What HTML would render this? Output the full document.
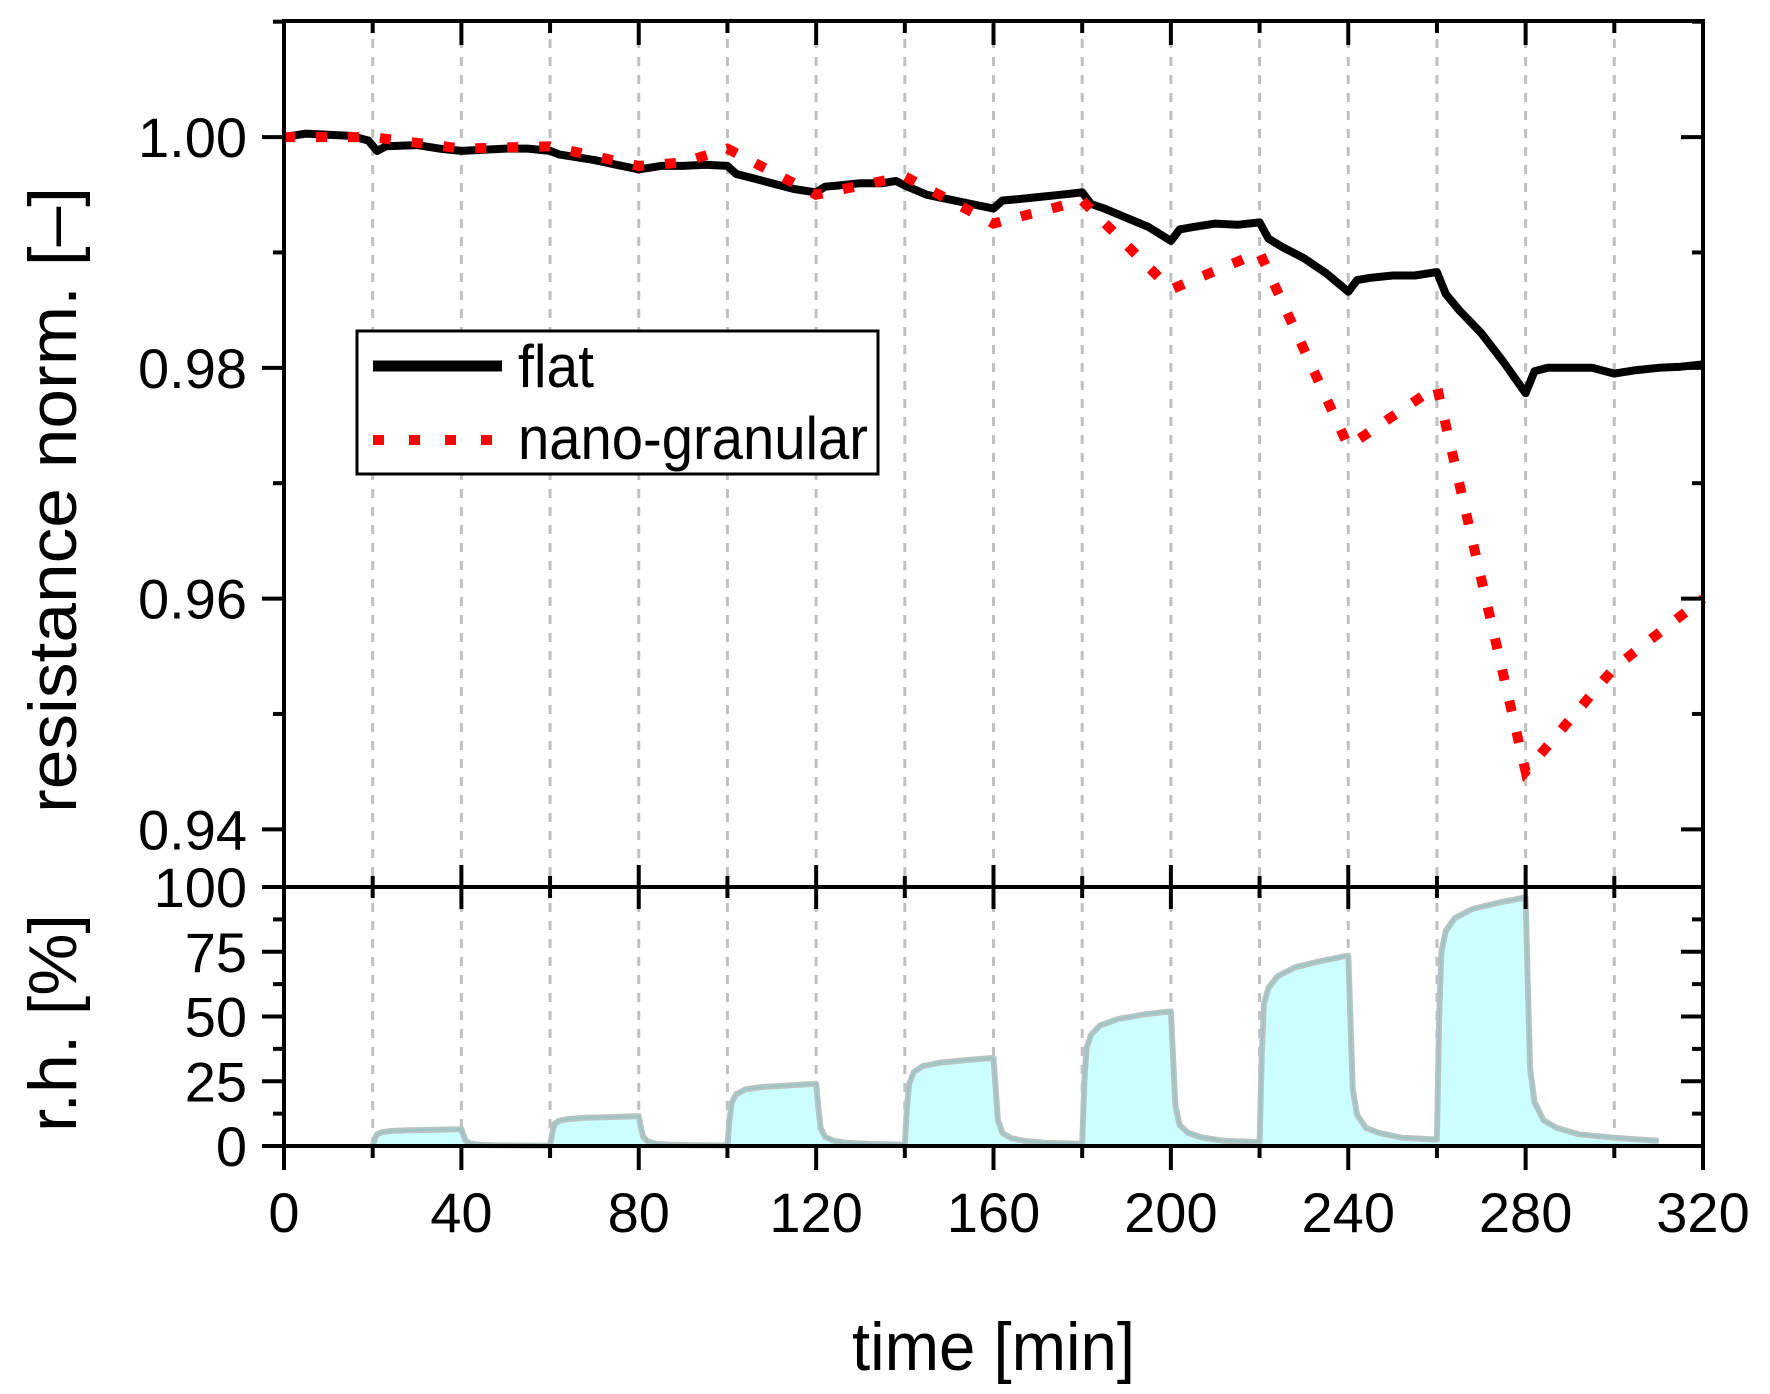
<!DOCTYPE html>
<html><head><meta charset="utf-8"><style>
html,body{margin:0;padding:0;background:#fff;}
svg{display:block;font-family:"Liberation Sans",Arial,sans-serif;}
</style></head><body>
<svg id="chart" width="1770" height="1394" viewBox="0 0 1770 1394" xmlns="http://www.w3.org/2000/svg">
<g id="grid"></g>
<g id="rh"></g>
<g id="series"></g>
<g id="axes"></g>
<g id="legend">
  <rect x="357" y="331" width="521" height="143" fill="#fff" stroke="#000" stroke-width="3"/>
  <line x1="373" y1="366" x2="502" y2="366" stroke="#000" stroke-width="11"/>
  <text x="518" y="387" font-size="60" textLength="76" lengthAdjust="spacingAndGlyphs">flat</text>
  <line x1="373" y1="440" x2="492" y2="440" stroke="#ff0000" stroke-width="10" stroke-dasharray="11 25"/>
  <text x="518" y="459" font-size="60" textLength="350" lengthAdjust="spacingAndGlyphs">nano-granular</text>
</g>
<text x="852" y="1370" font-size="68" textLength="283" lengthAdjust="spacingAndGlyphs">time [min]</text>
<text transform="translate(76,500) rotate(-90)" text-anchor="middle" font-size="68" textLength="626" lengthAdjust="spacingAndGlyphs">resistance norm. [–]</text>
<text transform="translate(76,1023) rotate(-90)" text-anchor="middle" font-size="68" textLength="218" lengthAdjust="spacingAndGlyphs">r.h. [%]</text>
</svg>
<script>
// ---- data ----
const flatT = [0,5,10,15,19,21,23,30,35,40,45,50,55,60,62,70,75,80,85,90,95,100,102,105,110,115,120,122,125,130,135,138,140,145,150,155,160,162,165,170,175,180,182,185,190,195,200,202,205,210,215,220,222,225,230,235,240,242,245,250,255,260,262,265,270,275,280,282,285,290,295,300,305,310,315,320];
const flatV = [1.000,1.0003,1.0002,1.0001,0.9997,0.9988,0.9992,0.9993,0.9990,0.9988,0.9989,0.9990,0.9990,0.9988,0.9985,0.9980,0.9976,0.9972,0.9975,0.9975,0.9976,0.9975,0.9968,0.9965,0.9960,0.9955,0.9952,0.9957,0.9958,0.9960,0.9960,0.9962,0.9958,0.9950,0.9946,0.9942,0.9938,0.9945,0.9946,0.9948,0.9950,0.9952,0.9942,0.9938,0.9930,0.9922,0.9910,0.9920,0.9922,0.9925,0.9924,0.9926,0.9912,0.9905,0.9895,0.9882,0.9866,0.9876,0.9878,0.9880,0.9880,0.9883,0.9864,0.9850,0.9830,0.9805,0.9778,0.9797,0.9800,0.9800,0.9800,0.9795,0.9798,0.9800,0.9801,0.9803];
const nanoT = [0,20,40,60,80,90,100,120,140,160,180,200,220,240,260,280,300,320];
const nanoV = [1.000,1.0000,0.9990,0.9992,0.9975,0.9978,0.9990,0.9950,0.9966,0.9925,0.9945,0.9868,0.9900,0.9732,0.9784,0.9450,0.9540,0.9600];
const rhT = [20,20.5,21,22,24,28,34,40,40.5,41,42,44,47,52,60,
  60.5,61,62,64,68,74,80,80.5,81,82,84,87,92,100,
  100.5,101,102,104,108,114,120,120.5,121,122,124,127,132,140,
  140.5,141,142,144,148,154,160,160.5,161,162,164,167,172,180,
  180.5,181,182,184,188,194,200,200.5,201,202,204,207,212,220,
  220.5,221,222,224,228,234,240,240.5,241,242,244,247,252,260,
  260.5,261,262,264,268,274,280,280.5,281,282,284,287,292,300,310];
const rhV = [0,3,4.5,5.3,5.8,6.1,6.3,6.5,4,2,1,0.5,0.3,0.2,0.1,
  5,8.5,9.7,10.4,10.9,11.2,11.5,7,3.5,1.8,0.9,0.5,0.3,0.2,
  11,17,20,21.8,22.8,23.4,24,15,7,3.5,2,1.2,0.8,0.5,
  15,24,28.5,30.8,32.2,33.2,34,22,10,5,3,2,1.2,0.8,
  25,38,43,46.5,49,50.8,52,34,16,8,5,3.3,2,1.5,
  36,55,61,65.5,69,71.5,73.5,48,22,12,7,5,3.2,2.5,
  50,75,83,88,91.5,94,96,62,30,17,10,7,4.5,3.2,2];
const xTicks = [0,40,80,120,160,200,240,280,320];
const xTickLabels = ["0","40","80","120","160","200","240","280","320"];
const yTicks = [0.94,0.96,0.98,1.00];
const yTickLabels = ["0.94","0.96","0.98","1.00"];
const rhTicks = [0,25,50,75,100];
const rhTickLabels = ["0","25","50","75","100"];

// ---- scales ----
const X0=284, X1=1703, YT=21, YD=887, YB=1146;
function xs(t){return X0+t*(X1-X0)/320;}
function ys(v){return YD-(v-0.935)*(YD-YT)/(1.01006-0.935);}
function yr(h){return YB-h*(YB-YD)/100;}
const NS="http://www.w3.org/2000/svg";
function mk(tag,attrs,parent){const e=document.createElementNS(NS,tag);for(const k in attrs)e.setAttribute(k,attrs[k]);parent.appendChild(e);return e;}
const grid=document.getElementById('grid'), rh=document.getElementById('rh'), ser=document.getElementById('series'), ax=document.getElementById('axes');

for(let t=20;t<320;t+=20){
  const g=mk('line',{x1:xs(t),x2:xs(t),y1:YT,y2:YB,stroke:'#c0c0c0','stroke-width':3,'stroke-dasharray':'9 9'},grid);
  
  
}
let d='M'+xs(rhT[0])+','+yr(0);
for(let i=0;i<rhT.length;i++) d+=' L'+xs(rhT[i]).toFixed(1)+','+yr(rhV[i]).toFixed(1);
d+=' L'+xs(rhT[rhT.length-1])+','+yr(0)+' Z';
const area=mk('path',{d:d,fill:'#ccffff',stroke:'none'},rh);


let dl='M'+xs(rhT[0])+','+yr(rhV[0]);
for(let i=1;i<rhT.length;i++) dl+=' L'+xs(rhT[i]).toFixed(1)+','+yr(rhV[i]).toFixed(1);
const rl=mk('path',{d:dl,fill:'none',stroke:'#b8c4c4','stroke-width':6,'stroke-linejoin':'round'},rh);


const rl2=mk('path',{d:dl,fill:'none',stroke:'#9cc4c4','stroke-width':2,'stroke-linejoin':'round'},rh);



let fd='';
for(let i=0;i<flatT.length;i++) fd+=(i?' L':'M')+xs(flatT[i]).toFixed(1)+','+ys(flatV[i]).toFixed(1);
const fl=mk('path',{d:fd,fill:'none',stroke:'#000','stroke-width':8,'stroke-linejoin':'round'},ser);


let nd='';
for(let i=0;i<nanoT.length;i++) nd+=(i?' L':'M')+xs(nanoT[i]).toFixed(1)+','+ys(nanoV[i]).toFixed(1);
const nl=mk('path',{d:nd,fill:'none',stroke:'#ff0000','stroke-width':10,'stroke-dasharray':'11 21'},ser);



function L(x1,y1,x2,y2,w){return mk('line',{x1:x1,y1:y1,x2:x2,y2:y2,stroke:'#000','stroke-width':w||4},ax);}
const fr=[L(X0,YT,X1,YT),L(X0,YT-2,X0,YB+24),L(X1,YT-2,X1,YB+24),L(X0-22,YD,X1,YD),L(X0-22,YB,X1,YB)];
fr.forEach(e=>{});
for(let t=0;t<=320;t+=20){
  const maj=t%40===0, x=xs(t);
  L(x,YT,x,YT+(maj?24:12));
  L(x,YD-(maj?22:11),x,YD+(maj?22:11));
  L(x,YB,x,YB+(maj?24:12));
}
xTicks.forEach((t,i)=>{
  const tx=mk('text',{x:xs(t),y:1232,'text-anchor':'middle','font-size':56},ax);
  tx.textContent=xTickLabels[i];
  
  
});
for(let k=0;k<8;k++){
  const v=0.94+k*0.01, y=ys(v), maj=k%2===0;
  L(X0-(maj?22:11),y,X0,y);
  L(X1-(maj?22:11),y,X1,y);
}
yTicks.forEach((v,i)=>{
  const tx=mk('text',{x:247,y:ys(v)+20,'text-anchor':'end','font-size':56},ax);
  tx.textContent=yTickLabels[i];
  
  
});
for(let h=12.5;h<100;h+=12.5){
  const maj=(h%25===0), y=yr(h);
  L(X0-(maj?22:11),y,X0,y);
  L(X1-(maj?22:11),y,X1,y);
}
rhTicks.forEach((h,i)=>{
  const tx=mk('text',{x:247,y:yr(h)+20,'text-anchor':'end','font-size':56},ax);
  tx.textContent=rhTickLabels[i];
  
  
});
</script>
</body></html>
